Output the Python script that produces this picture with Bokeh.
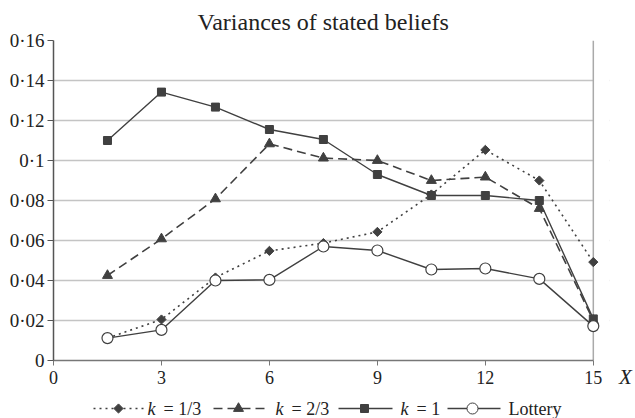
import math
from bokeh.plotting import figure
from bokeh.layouts import column, row
from bokeh.models import ColumnDataSource, FixedTicker, Range1d, BoxAnnotation, Span, Div
from bokeh.core.properties import value
from bokeh.embed import file_html
from bokeh.resources import INLINE

# ---- data ----
x_vals = [1.5, 3, 4.5, 6, 7.5, 9, 10.5, 12, 13.5, 15]
k_one_third = [0.0112, 0.0205, 0.0415, 0.0548, 0.0587, 0.0643, 0.0830, 0.1053, 0.0900, 0.0492]
k_two_thirds = [0.0425, 0.0608, 0.0808, 0.1083, 0.1012, 0.1000, 0.0900, 0.0917, 0.0760, 0.0200]
k_one = [0.1100, 0.1342, 0.1267, 0.1155, 0.1105, 0.0930, 0.0825, 0.0825, 0.0800, 0.0208]
lottery = [0.0112, 0.0153, 0.0400, 0.0403, 0.0570, 0.0550, 0.0455, 0.0460, 0.0408, 0.0172]

x_ticks = [0, 3, 6, 9, 12, 15]
y_ticks = [0, 0.02, 0.04, 0.06, 0.08, 0.1, 0.12, 0.14, 0.16]
y_tick_labels = ["0", "0·02", "0·04", "0·06", "0·08", "0·1", "0·12", "0·14", "0·16"]
x_tick_labels = ["0", "3", "6", "9", "12", "15"]

series_labels = ["= 1/3", "= 2/3", "= 1", "Lottery"]
x_axis_name = "X"
title_text = "Variances of stated beliefs"

SERIF = "Liberation Serif"
INK = "#404040"
TXT = "#222222"
X_MAX = 15
X_PAD = 15.45
DIAMOND_ANGLE = math.pi / 4

p = figure(width=612, height=390, output_backend="svg", toolbar_location=None,
           x_range=Range1d(0, X_PAD), y_range=Range1d(0, 0.16),
           min_border_left=53, min_border_right=3, min_border_top=40, min_border_bottom=30,
           title=title_text)
p.title.text_font = SERIF
p.title.text_font_size = "24px"
p.title.text_font_style = "normal"
p.title.text_color = TXT
p.title.align = "left"
p.title.offset = 144
p.title.standoff = 12

p.background_fill_color = "white"
p.border_fill_color = "white"
p.outline_line_color = None

p.xgrid.visible = False
p.ygrid.grid_line_color = "#c4c4c4"
p.ygrid.grid_line_width = 1.5

p.yaxis.ticker = FixedTicker(ticks=y_ticks)
p.yaxis.major_label_overrides = {t: l for t, l in zip(y_ticks, y_tick_labels)}
p.xaxis.ticker = FixedTicker(ticks=x_ticks)
p.xaxis.major_label_overrides = {t: l for t, l in zip(x_ticks, x_tick_labels)}
p.xaxis.bounds = (0, X_MAX)
for ax in (p.xaxis, p.yaxis):
    ax.major_label_text_font = SERIF
    ax.major_label_text_color = TXT
    ax.minor_tick_line_color = None
    ax.major_tick_in = 0
p.yaxis.major_label_text_font_size = "19px"
p.xaxis.major_label_text_font_size = "18px"
p.yaxis.major_tick_out = 6
p.xaxis.major_tick_out = 5
p.yaxis.axis_line_color = "#555555"
p.yaxis.major_tick_line_color = "#555555"
p.yaxis.axis_line_width = 1.5
p.xaxis.axis_line_color = "#777777"
p.xaxis.major_tick_line_color = "#777777"
p.xaxis.axis_line_width = 1.5
p.yaxis.major_label_standoff = 3
p.xaxis.major_label_standoff = 5

# hide the padding strip right of x = 15 and draw the plot border there
p.add_layout(BoxAnnotation(left=X_MAX, fill_color="white", fill_alpha=1.0, line_color=None, level="underlay"))
p.add_layout(Span(location=X_MAX, dimension="height", line_color="#aaaaaa", line_width=1.5, level="underlay"))

src = ColumnDataSource(dict(x=x_vals, a=k_one_third, b=k_two_thirds, c=k_one, d=lottery))

p.line("x", "a", source=src, line_color=INK, line_width=1.6, line_dash="2 4")
p.scatter("x", "a", source=src, marker="square", size=6.5, angle=DIAMOND_ANGLE, fill_color=INK, line_color=INK)

p.line("x", "b", source=src, line_color=INK, line_width=1.6, line_dash="9 5")
p.scatter("x", "b", source=src, marker="triangle", size=10, fill_color=INK, line_color=INK)

p.line("x", "c", source=src, line_color=INK, line_width=1.4)
p.scatter("x", "c", source=src, marker="square", size=8, fill_color=INK, line_color=INK)

p.line("x", "d", source=src, line_color=INK, line_width=1.4)
p.scatter("x", "d", source=src, marker="circle", size=11, fill_color="white", line_color=INK, line_width=1.2)

# ---- "X" axis name (right of the plot, level with the tick labels) ----
xdiv = Div(text=x_axis_name, width=23, height=390, margin=0,
           styles={"font-family": SERIF, "font-style": "italic", "font-size": "21px",
                   "line-height": "21px", "color": TXT, "padding-top": "367px",
                   "padding-left": "7px", "box-sizing": "border-box", "overflow": "hidden"})

# ---- legend strip ----
lg = figure(width=635, height=28, output_backend="svg", toolbar_location=None,
            x_range=Range1d(0, 635), y_range=Range1d(0, 28),
            x_axis_location=None, y_axis_location=None, min_border=0)
lg.outline_line_color = None
lg.grid.visible = False

yc = 10
items = [
    dict(x0=93, x1=143, m=118, dash="2 4", marker="square", size=6.5, angle=DIAMOND_ANGLE, fill=INK, tx=147, lab=series_labels[0], k=True),
    dict(x0=213, x1=265, m=238, dash="9 5", marker="triangle", size=10, angle=0, fill=INK, tx=275, lab=series_labels[1], k=True),
    dict(x0=338, x1=392, m=364, dash="solid", marker="square", size=8, angle=0, fill=INK, tx=400, lab=series_labels[2], k=True),
    dict(x0=447, x1=500, m=472, dash="solid", marker="circle", size=11, angle=0, fill="white", tx=508, lab=series_labels[3], k=False),
]
for it in items:
    lg.line([it["x0"], it["x1"]], [yc, yc], line_color=INK, line_width=1.5, line_dash=it["dash"])
    lg.scatter([it["m"]], [yc], marker=it["marker"], size=it["size"], angle=it["angle"],
               fill_color=it["fill"], line_color=INK)
    if it["k"]:
        lg.text([it["tx"]], [yc], text=["k"], text_font=value(SERIF), text_font_style="italic",
                text_font_size="18px", text_baseline="middle", text_color=TXT)
        lg.text([it["tx"] + 16], [yc], text=[it["lab"]], text_font=value(SERIF),
                text_font_size="18px", text_baseline="middle", text_color=TXT)
    else:
        lg.text([it["tx"]], [yc], text=[it["lab"]], text_font=value(SERIF),
                text_font_size="18px", text_baseline="middle", text_color=TXT)

layout = column(row(p, xdiv, spacing=0), lg, spacing=0)
open("out.html", "w").write(file_html(layout, INLINE))
